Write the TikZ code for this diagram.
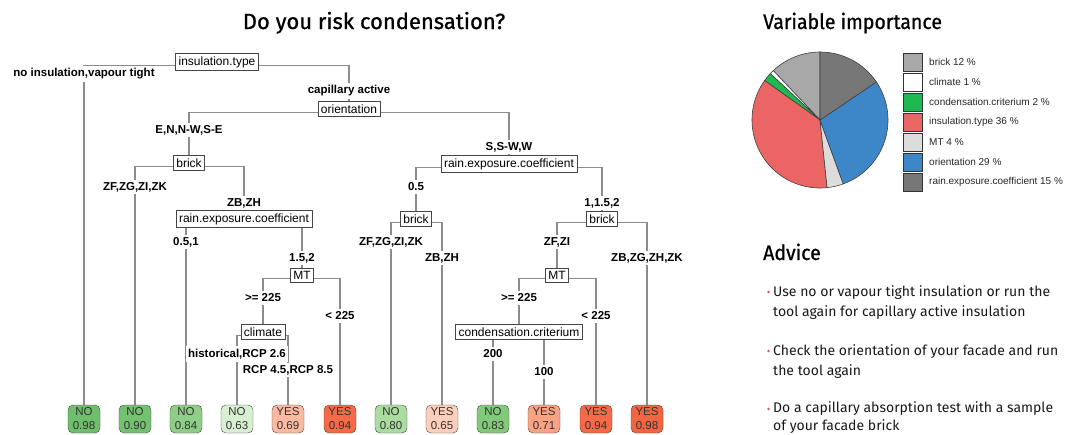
\documentclass[tikz,border=0pt]{standalone}
\usepackage{fontspec}
\setmainfont{Liberation Sans}
\newfontfamily\titlefont[FakeBold=0.8]{Fira Sans}
\newfontfamily\headfont[FakeStretch=0.93,FakeBold=0.8]{Fira Sans}
\newfontfamily\advicefont{Fira Sans}
\usepackage{xcolor}
\usetikzlibrary{backgrounds}
\definecolor{edgegrey}{RGB}{140,140,140}
\definecolor{boxline}{RGB}{70,70,70}
\definecolor{no98}{RGB}{110,190,108}
\definecolor{no90}{RGB}{116,193,112}
\definecolor{no84}{RGB}{142,206,134}
\definecolor{no83}{RGB}{130,201,122}
\definecolor{no80}{RGB}{170,220,160}
\definecolor{no63}{RGB}{216,240,210}
\definecolor{yes65}{RGB}{252,207,188}
\definecolor{yes69}{RGB}{250,185,160}
\definecolor{yes71}{RGB}{249,162,132}
\definecolor{yes94}{RGB}{244,106,72}
\definecolor{yes98}{RGB}{243,100,66}
\definecolor{brickgrey}{RGB}{168,168,168}
\definecolor{climwhite}{RGB}{255,255,255}
\definecolor{condgreen}{RGB}{30,185,80}
\definecolor{insulred}{RGB}{235,101,101}
\definecolor{mtgrey}{RGB}{220,220,220}
\definecolor{orientblue}{RGB}{61,135,201}
\definecolor{raingrey}{RGB}{119,119,119}
\definecolor{bulletred}{RGB}{232,80,80}
\tikzstyle{split}=[draw=boxline, fill=white, inner sep=3pt, line width=.7pt, font=\fontsize{12}{13}\selectfont]
\tikzstyle{cut}=[fill=white, inner sep=2.5pt, font=\bfseries\fontsize{11.5}{13}\selectfont]
\tikzset{leaf/.style={draw=boxline, rounded corners=5pt, minimum width=32pt, minimum height=28pt, inner sep=1pt, align=center, text=black!80, font=\fontsize{11.5}{14}\selectfont}}
\tikzset{edge/.style={draw=edgegrey, line width=1.4pt}}
\tikzset{slice/.style={draw=black!75, line width=.6pt}}
\tikzset{key/.style={draw=black!80, line width=.8pt, minimum width=19pt, minimum height=18pt, inner sep=0pt}}
\tikzset{keytext/.style={anchor=west, inner sep=0pt, text=black!85, font=\fontsize{10}{11}\selectfont}}
\tikzset{heading/.style={inner sep=0pt, font=\headfont\fontsize{21}{24}\selectfont}}
\tikzset{advice/.style={anchor=base west, inner sep=0pt, align=left, text=black!90, font=\advicefont\fontsize{14}{19.5}\selectfont}}

\begin{document}
\begin{tikzpicture}[x=1pt,y=-1pt]
  \useasboundingbox (0,0) rectangle (1070,434);
  \draw (374,29) node[heading,anchor=base,font=\titlefont\fontsize{22}{24}\selectfont] (title) {Do you risk condensation?};

  %% Splits
  \draw (217,62) node[split] (root) {insulation.type};
  \draw (349,109) node[split] (orient) {orientation};
  \draw (189,163) node[split] (brickA) {brick};
  \draw (509,164) node[split] (rainB) {rain.exposure.coefficient};
  \draw (244,219) node[split] (rainA) {rain.exposure.coefficient};
  \draw (302,275) node[split] (mtA) {MT};
  \draw (263,332) node[split] (climA) {climate};
  \draw (416,219) node[split] (brickB) {brick};
  \draw (602,219) node[split] (brickC) {brick};
  \draw (557,275) node[split] (mtB) {MT};
  \draw (519,332) node[split] (condB) {condensation.criterium};

  %% Leaves
  \draw (84,419) node[leaf,fill=no98] (L1) {NO\\0.98};
  \draw (135,419) node[leaf,fill=no90] (L2) {NO\\0.90};
  \draw (186,419) node[leaf,fill=no84] (L3) {NO\\0.84};
  \draw (237,419) node[leaf,fill=no63] (L4) {NO\\0.63};
  \draw (288,419) node[leaf,fill=yes69] (L5) {YES\\0.69};
  \draw (340,419) node[leaf,fill=yes94] (L6) {YES\\0.94};
  \draw (391,419) node[leaf,fill=no80] (L7) {NO\\0.80};
  \draw (442,419) node[leaf,fill=yes65] (L8) {YES\\0.65};
  \draw (493,419) node[leaf,fill=no83] (L9) {NO\\0.83};
  \draw (544,419) node[leaf,fill=yes71] (L10) {YES\\0.71};
  \draw (596,419) node[leaf,fill=yes94] (L11) {YES\\0.94};
  \draw (647,419) node[leaf,fill=yes98] (L12) {YES\\0.98};

  \begin{scope}[on background layer]
  \draw[edge] ([yshift=-3.5pt]root.center) -| (L1.north);
  \draw[edge] ([yshift=-3.5pt]root.center) -| (orient.north);
  \draw[edge] ([yshift=-3.5pt]orient.center) -| (brickA.north);
  \draw[edge] ([yshift=-3.5pt]orient.center) -| (rainB.north);
  \draw[edge] ([yshift=-3.5pt]brickA.center) -| (L2.north);
  \draw[edge] ([yshift=-3.5pt]brickA.center) -| (rainA.north);
  \draw[edge] ([yshift=-3.5pt]rainA.center) -| (L3.north);
  \draw[edge] ([yshift=-3.5pt]rainA.center) -| (mtA.north);
  \draw[edge] ([yshift=-3.5pt]mtA.center) -| (climA.north);
  \draw[edge] ([yshift=-3.5pt]mtA.center) -| (L6.north);
  \draw[edge] ([yshift=-3.5pt]climA.center) -| (L4.north);
  \draw[edge] ([yshift=-3.5pt]climA.center) -| (L5.north);
  \draw[edge] ([yshift=-3.5pt]rainB.center) -| (brickB.north);
  \draw[edge] ([yshift=-3.5pt]rainB.center) -| (brickC.north);
  \draw[edge] ([yshift=-3.5pt]brickB.center) -| (L7.north);
  \draw[edge] ([yshift=-3.5pt]brickB.center) -| (L8.north);
  \draw[edge] ([yshift=-3.5pt]brickC.center) -| (mtB.north);
  \draw[edge] ([yshift=-3.5pt]brickC.center) -| (L12.north);
  \draw[edge] ([yshift=-3.5pt]mtB.center) -| (condB.north);
  \draw[edge] ([yshift=-3.5pt]mtB.center) -| (L11.north);
  \draw[edge] ([yshift=-3.5pt]condB.center) -| (L9.north);
  \draw[edge] ([yshift=-3.5pt]condB.center) -| (L10.north);
  \end{scope}

  %% Branch labels
  \draw (84,74) node[cut] (cNoIns) {no insulation,vapour tight};
  \draw (349,91) node[cut] (cCap) {capillary active};
  \draw (189,130) node[cut] (cENW) {E,N,N-W,S-E};
  \draw (509,147) node[cut] (cSSW) {S,S-W,W};
  \draw (135,187) node[cut] (cZFa) {ZF,ZG,ZI,ZK};
  \draw (244,203) node[cut] (cZBa) {ZB,ZH};
  \draw (186,242) node[cut] (c05a) {0.5,1};
  \draw (302,258) node[cut] (c152) {1.5,2};
  \draw (263,298) node[cut] (cGEa) {>= 225};
  \draw (340,316) node[cut] (cLTa) {< 225};
  \draw (237,354) node[cut] (cHist) {historical,RCP 2.6};
  \draw (288,370) node[cut] (cRCP) {RCP 4.5,RCP 8.5};
  \draw (416,187) node[cut] (c05b) {0.5};
  \draw (602,203) node[cut] (c115) {1,1.5,2};
  \draw (391,242) node[cut] (cZFb) {ZF,ZG,ZI,ZK};
  \draw (442,258) node[cut] (cZBb) {ZB,ZH};
  \draw (557,242) node[cut] (cZFZI) {ZF,ZI};
  \draw (647,258) node[cut] (cZBc) {ZB,ZG,ZH,ZK};
  \draw (519,298) node[cut] (cGEb) {>= 225};
  \draw (596,316) node[cut] (cLTb) {< 225};
  \draw (493,354) node[cut] (c200) {200};
  \draw (544,372) node[cut] (c100) {100};

  %% Variable importance
  \draw (763,29) node[heading,anchor=base west] (vtitle) {Variable importance};
  \begin{scope}[shift={(820,120)}]
  \filldraw[slice,fill=brickgrey] (0,0) -- (-90:68) arc[start angle=-90, end angle=-133.4, radius=68] -- cycle;
  \filldraw[slice,fill=climwhite] (0,0) -- (-133.4:68) arc[start angle=-133.4, end angle=-137, radius=68] -- cycle;
  \filldraw[slice,fill=condgreen] (0,0) -- (-137:68) arc[start angle=-137, end angle=-144.5, radius=68] -- cycle;
  \filldraw[slice,fill=insulred] (0,0) -- (-144.5:68) arc[start angle=-144.5, end angle=-276, radius=68] -- cycle;
  \filldraw[slice,fill=mtgrey] (0,0) -- (-276:68) arc[start angle=-276, end angle=-290, radius=68] -- cycle;
  \filldraw[slice,fill=orientblue] (0,0) -- (-290:68) arc[start angle=-290, end angle=-394, radius=68] -- cycle;
  \filldraw[slice,fill=raingrey] (0,0) -- (-394:68) arc[start angle=-394, end angle=-450, radius=68] -- cycle;
  \end{scope}
  \draw (912.5,62) node[key,fill=brickgrey] (kBrick) {};
  \draw (912.5,82) node[key,fill=climwhite] (kClim) {};
  \draw (912.5,102) node[key,fill=condgreen] (kCond) {};
  \draw (912.5,122) node[key,fill=insulred] (kInsul) {};
  \draw (912.5,142) node[key,fill=mtgrey] (kMT) {};
  \draw (912.5,162) node[key,fill=orientblue] (kOrient) {};
  \draw (912.5,182) node[key,fill=raingrey] (kRain) {};
  \draw (929,62) node[keytext] (tBrick) {brick 12 \%};
  \draw (929,82) node[keytext] (tClim) {climate 1 \%};
  \draw (929,102) node[keytext] (tCond) {condensation.criterium 2 \%};
  \draw (929,122) node[keytext] (tInsul) {insulation.type 36 \%};
  \draw (929,142) node[keytext] (tMT) {MT 4 \%};
  \draw (929,162) node[keytext] (tOrient) {orientation 29 \%};
  \draw (929,182) node[keytext] (tRain) {rain.exposure.coefficient 15 \%};

  %% Advice
  \draw (763,260) node[heading,anchor=base west] (atitle) {Advice};
  \fill[bulletred] (768.5,292) circle (1.3);
  \fill[bulletred] (768.5,351) circle (1.3);
  \fill[bulletred] (768.5,409) circle (1.3);
  \draw (773,316) node[advice] (adv1) {Use no or vapour tight insulation or run the\\tool again for capillary active insulation};
  \draw (773,375) node[advice] (adv2) {Check the orientation of your facade and run\\the tool again};
  \draw (773,430) node[advice,font=\advicefont\fontsize{14}{18}\selectfont] (adv3) {Do a capillary absorption test with a sample\\of your facade brick};
\end{tikzpicture}
\end{document}
